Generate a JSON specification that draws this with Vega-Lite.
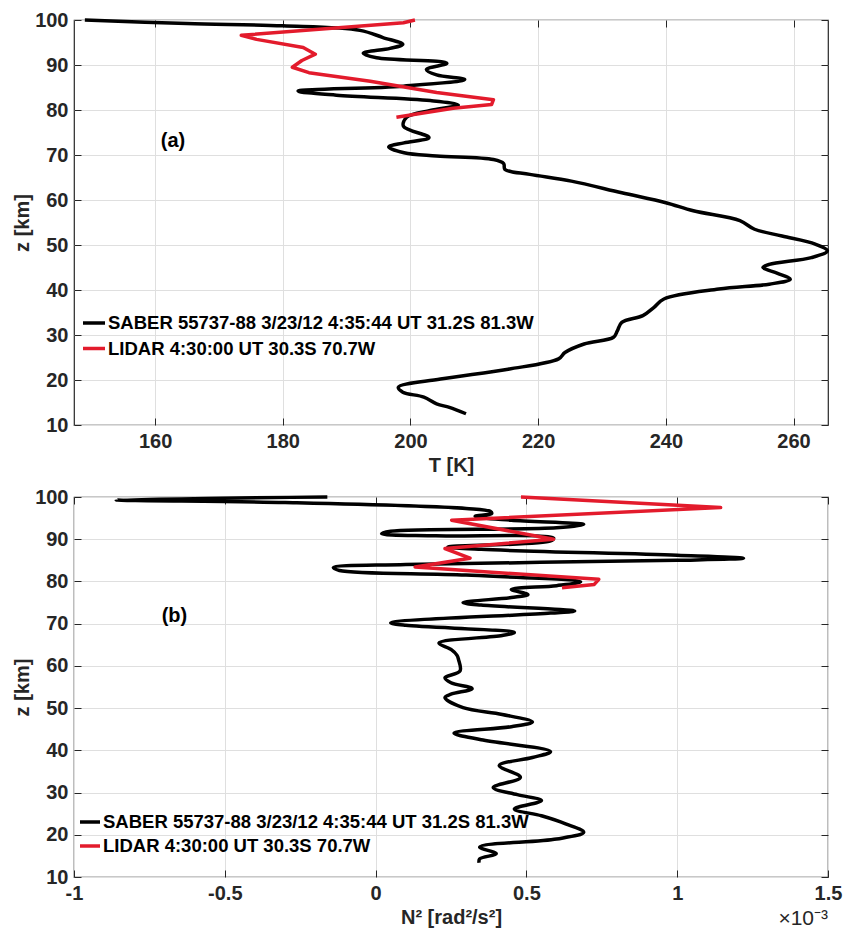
{
  "$schema": "https://vega.github.io/schema/vega-lite/v6.json",
  "background": "white",
  "padding": {"left": 12, "top": 9, "right": 0, "bottom": 0},
  "spacing": 10,
  "config": {
    "font": "Liberation Sans",
    "view": {"stroke": "#262626", "strokeWidth": 1.2},
    "axis": {
      "labelFont": "Liberation Sans", "labelFontWeight": "bold", "labelFontSize": 20, "labelColor": "#262626",
      "titleFont": "Liberation Sans", "titleFontWeight": "bold", "titleFontSize": 20, "titleColor": "#262626",
      "grid": true, "gridColor": "#dfdfdf", "gridWidth": 1, "domain": false, "labelFlush": false,
      "tickColor": "#262626", "tickSize": -7, "tickWidth": 1, "labelPadding": 13
    }
  },
  "resolve": {"scale": {"x": "independent", "y": "independent", "color": "independent"}, "legend": {"color": "independent"}},
  "datasets": {
    "top": [
      {"series": "SABER", "T": 149.0, "z": 100.0},
      {"series": "SABER", "T": 165.0, "z": 99.2},
      {"series": "SABER", "T": 180.0, "z": 98.7},
      {"series": "SABER", "T": 192.1, "z": 97.7},
      {"series": "SABER", "T": 195.7, "z": 96.1},
      {"series": "SABER", "T": 198.8, "z": 94.6},
      {"series": "SABER", "T": 196.8, "z": 93.7},
      {"series": "SABER", "T": 192.6, "z": 92.6},
      {"series": "SABER", "T": 194.7, "z": 91.6},
      {"series": "SABER", "T": 205.7, "z": 90.4},
      {"series": "SABER", "T": 202.5, "z": 89.0},
      {"series": "SABER", "T": 204.1, "z": 87.8},
      {"series": "SABER", "T": 208.5, "z": 86.8},
      {"series": "SABER", "T": 198.9, "z": 85.3},
      {"series": "SABER", "T": 182.4, "z": 84.2},
      {"series": "SABER", "T": 188.4, "z": 83.3},
      {"series": "SABER", "T": 203.1, "z": 82.1},
      {"series": "SABER", "T": 207.5, "z": 81.1},
      {"series": "SABER", "T": 203.1, "z": 79.9},
      {"series": "SABER", "T": 199.4, "z": 78.4},
      {"series": "SABER", "T": 198.9, "z": 76.4},
      {"series": "SABER", "T": 202.9, "z": 73.9},
      {"series": "SABER", "T": 199.0, "z": 72.7},
      {"series": "SABER", "T": 196.6, "z": 71.8},
      {"series": "SABER", "T": 199.0, "z": 70.5},
      {"series": "SABER", "T": 204.1, "z": 69.8},
      {"series": "SABER", "T": 213.0, "z": 69.0},
      {"series": "SABER", "T": 214.6, "z": 68.1},
      {"series": "SABER", "T": 214.8, "z": 66.8},
      {"series": "SABER", "T": 218.7, "z": 65.7},
      {"series": "SABER", "T": 225.2, "z": 64.2},
      {"series": "SABER", "T": 233.1, "z": 61.6},
      {"series": "SABER", "T": 240.0, "z": 59.4},
      {"series": "SABER", "T": 244.3, "z": 57.6},
      {"series": "SABER", "T": 251.6, "z": 55.4},
      {"series": "SABER", "T": 253.9, "z": 53.5},
      {"series": "SABER", "T": 258.2, "z": 52.0},
      {"series": "SABER", "T": 263.4, "z": 50.2},
      {"series": "SABER", "T": 265.3, "z": 48.7},
      {"series": "SABER", "T": 262.8, "z": 47.2},
      {"series": "SABER", "T": 256.2, "z": 45.7},
      {"series": "SABER", "T": 255.2, "z": 45.0},
      {"series": "SABER", "T": 257.5, "z": 43.7},
      {"series": "SABER", "T": 259.5, "z": 42.4},
      {"series": "SABER", "T": 256.2, "z": 41.3},
      {"series": "SABER", "T": 248.3, "z": 40.2},
      {"series": "SABER", "T": 239.7, "z": 38.0},
      {"series": "SABER", "T": 238.1, "z": 36.1},
      {"series": "SABER", "T": 236.4, "z": 34.3},
      {"series": "SABER", "T": 233.1, "z": 32.8},
      {"series": "SABER", "T": 232.4, "z": 30.9},
      {"series": "SABER", "T": 231.8, "z": 29.5},
      {"series": "SABER", "T": 227.2, "z": 28.0},
      {"series": "SABER", "T": 224.2, "z": 26.1},
      {"series": "SABER", "T": 223.2, "z": 24.7},
      {"series": "SABER", "T": 215.3, "z": 22.4},
      {"series": "SABER", "T": 204.7, "z": 20.2},
      {"series": "SABER", "T": 198.1, "z": 18.4},
      {"series": "SABER", "T": 198.8, "z": 17.3},
      {"series": "SABER", "T": 202.1, "z": 16.2},
      {"series": "SABER", "T": 204.1, "z": 14.7},
      {"series": "SABER", "T": 206.1, "z": 13.9},
      {"series": "SABER", "T": 208.7, "z": 12.5},
      {"series": "LIDAR", "T": 200.7, "z": 100.0},
      {"series": "LIDAR", "T": 198.9, "z": 99.4},
      {"series": "LIDAR", "T": 173.5, "z": 96.6},
      {"series": "LIDAR", "T": 175.9, "z": 95.7},
      {"series": "LIDAR", "T": 183.2, "z": 93.9},
      {"series": "LIDAR", "T": 185.1, "z": 92.4},
      {"series": "LIDAR", "T": 183.0, "z": 91.0},
      {"series": "LIDAR", "T": 181.5, "z": 89.5},
      {"series": "LIDAR", "T": 184.1, "z": 88.3},
      {"series": "LIDAR", "T": 193.7, "z": 86.4},
      {"series": "LIDAR", "T": 204.1, "z": 83.9},
      {"series": "LIDAR", "T": 213.0, "z": 82.3},
      {"series": "LIDAR", "T": 212.7, "z": 81.2},
      {"series": "LIDAR", "T": 206.7, "z": 80.4},
      {"series": "LIDAR", "T": 197.8, "z": 78.4}
    ],
    "bot": [
      {"series": "SABER", "N": -0.16, "z": 100.0},
      {"series": "SABER", "N": -0.86, "z": 99.3},
      {"series": "SABER", "N": -0.3, "z": 98.7},
      {"series": "SABER", "N": 0.3, "z": 97.3},
      {"series": "SABER", "N": 0.38, "z": 96.6},
      {"series": "SABER", "N": 0.385, "z": 96.1},
      {"series": "SABER", "N": 0.33, "z": 95.4},
      {"series": "SABER", "N": 0.45, "z": 94.5},
      {"series": "SABER", "N": 0.69, "z": 93.5},
      {"series": "SABER", "N": 0.6, "z": 92.7},
      {"series": "SABER", "N": 0.05, "z": 91.9},
      {"series": "SABER", "N": 0.02, "z": 91.3},
      {"series": "SABER", "N": 0.2, "z": 90.8},
      {"series": "SABER", "N": 0.59, "z": 90.3},
      {"series": "SABER", "N": 0.58, "z": 89.6},
      {"series": "SABER", "N": 0.24, "z": 88.2},
      {"series": "SABER", "N": 0.35, "z": 87.6},
      {"series": "SABER", "N": 1.0, "z": 86.2},
      {"series": "SABER", "N": 1.22, "z": 85.5},
      {"series": "SABER", "N": 1.0, "z": 85.0},
      {"series": "SABER", "N": 0.1, "z": 84.0},
      {"series": "SABER", "N": -0.14, "z": 83.3},
      {"series": "SABER", "N": -0.12, "z": 82.6},
      {"series": "SABER", "N": 0.3, "z": 81.5},
      {"series": "SABER", "N": 0.68, "z": 79.9},
      {"series": "SABER", "N": 0.6, "z": 79.0},
      {"series": "SABER", "N": 0.45, "z": 78.1},
      {"series": "SABER", "N": 0.505, "z": 76.9},
      {"series": "SABER", "N": 0.45, "z": 76.2},
      {"series": "SABER", "N": 0.29, "z": 75.0},
      {"series": "SABER", "N": 0.35, "z": 74.4},
      {"series": "SABER", "N": 0.66, "z": 73.0},
      {"series": "SABER", "N": 0.58, "z": 72.5},
      {"series": "SABER", "N": 0.05, "z": 70.2},
      {"series": "SABER", "N": 0.1, "z": 69.6},
      {"series": "SABER", "N": 0.46, "z": 67.9},
      {"series": "SABER", "N": 0.42, "z": 67.2},
      {"series": "SABER", "N": 0.21, "z": 65.4},
      {"series": "SABER", "N": 0.25, "z": 63.9},
      {"series": "SABER", "N": 0.27, "z": 62.5},
      {"series": "SABER", "N": 0.275, "z": 61.5},
      {"series": "SABER", "N": 0.28, "z": 58.8},
      {"series": "SABER", "N": 0.23, "z": 57.2},
      {"series": "SABER", "N": 0.25, "z": 56.0},
      {"series": "SABER", "N": 0.32, "z": 54.6},
      {"series": "SABER", "N": 0.25, "z": 53.3},
      {"series": "SABER", "N": 0.23, "z": 52.5},
      {"series": "SABER", "N": 0.29, "z": 50.1},
      {"series": "SABER", "N": 0.42, "z": 48.5},
      {"series": "SABER", "N": 0.52, "z": 46.7},
      {"series": "SABER", "N": 0.45, "z": 45.6},
      {"series": "SABER", "N": 0.26, "z": 44.1},
      {"series": "SABER", "N": 0.35, "z": 42.5},
      {"series": "SABER", "N": 0.58, "z": 39.7},
      {"series": "SABER", "N": 0.52, "z": 38.3},
      {"series": "SABER", "N": 0.41, "z": 36.4},
      {"series": "SABER", "N": 0.48, "z": 33.6},
      {"series": "SABER", "N": 0.39, "z": 31.2},
      {"series": "SABER", "N": 0.47, "z": 29.5},
      {"series": "SABER", "N": 0.55, "z": 28.1},
      {"series": "SABER", "N": 0.46, "z": 26.1},
      {"series": "SABER", "N": 0.55, "z": 24.5},
      {"series": "SABER", "N": 0.63, "z": 22.6},
      {"series": "SABER", "N": 0.69, "z": 20.6},
      {"series": "SABER", "N": 0.6, "z": 19.0},
      {"series": "SABER", "N": 0.345, "z": 17.1},
      {"series": "SABER", "N": 0.4, "z": 15.5},
      {"series": "SABER", "N": 0.345, "z": 14.3},
      {"series": "SABER", "N": 0.343, "z": 13.4},
      {"series": "LIDAR", "N": 0.482, "z": 100.0},
      {"series": "LIDAR", "N": 1.144, "z": 97.5},
      {"series": "LIDAR", "N": 0.252, "z": 94.5},
      {"series": "LIDAR", "N": 0.59, "z": 90.0},
      {"series": "LIDAR", "N": 0.23, "z": 87.8},
      {"series": "LIDAR", "N": 0.313, "z": 85.5},
      {"series": "LIDAR", "N": 0.131, "z": 83.4},
      {"series": "LIDAR", "N": 0.74, "z": 80.5},
      {"series": "LIDAR", "N": 0.725, "z": 79.3},
      {"series": "LIDAR", "N": 0.618, "z": 78.5}
    ]
  },
  "vconcat": [
    {
      "width": 754,
      "height": 405,
      "data": {"name": "top"},
      "transform": [
        {"calculate": "datum.series === 'SABER' ? 'SABER 55737-88 3/23/12 4:35:44 UT 31.2S 81.3W' : 'LIDAR 4:30:00 UT 30.3S 70.7W'", "as": "label"}
      ],
      "resolve": {"axis": {"x": "independent", "y": "independent"}},
      "layer": [
        {
          "transform": [{"filter": "datum.series === 'SABER'"}],
          "mark": {"type": "line", "strokeWidth": 3.5, "interpolate": "catmull-rom", "strokeJoin": "round"},
          "encoding": {
            "x": {"field": "T", "type": "quantitative", "scale": {"domain": [147.3, 265.4], "nice": false, "zero": false},
                  "axis": {"values": [160, 180, 200, 220, 240, 260], "title": "T [K]", "titlePadding": 4}},
            "y": {"field": "z", "type": "quantitative", "scale": {"domain": [10, 100], "nice": false, "zero": false},
                  "axis": {"values": [10, 20, 30, 40, 50, 60, 70, 80, 90, 100], "title": "z [km]", "titlePadding": 2}},
            "order": {"field": "z", "sort": "descending"},
            "color": {"field": "label", "type": "nominal",
              "scale": {"domain": ["SABER 55737-88 3/23/12 4:35:44 UT 31.2S 81.3W", "LIDAR 4:30:00 UT 30.3S 70.7W"], "range": ["#000000", "#e31b2c"]},
              "legend": {"orient": "none", "legendX": 7, "legendY": 290, "title": null, "symbolType": "stroke", "symbolSize": 484, "symbolStrokeWidth": 3.5,
                "labelFont": "Liberation Sans", "labelFontWeight": "bold", "labelFontSize": 18.5, "labelColor": "#000000", "labelLimit": 700, "rowPadding": 2.5, "labelOffset": 1, "direction": "vertical", "padding": 0}}
          }
        },
        {
          "transform": [{"filter": "datum.series === 'LIDAR'"}],
          "mark": {"type": "line", "strokeWidth": 3.5, "strokeJoin": "round"},
          "encoding": {
            "x": {"field": "T", "type": "quantitative", "axis": null},
            "y": {"field": "z", "type": "quantitative", "axis": null},
            "order": {"field": "z", "sort": "descending"},
            "color": {"field": "label", "type": "nominal"}
          }
        },
        {
          "data": {"values": [{"T": 162.8, "z": 73.1, "text": "(a)"}]},
          "transform": [],
          "mark": {"type": "text", "font": "Liberation Sans", "fontWeight": "bold", "fontSize": 20, "color": "#000000", "align": "center", "baseline": "middle"},
          "encoding": {
            "x": {"field": "T", "type": "quantitative", "axis": {"orient": "top", "values": [160, 180, 200, 220, 240, 260], "labels": false, "title": null, "grid": false, "minExtent": 0}},
            "y": {"field": "z", "type": "quantitative", "axis": {"orient": "right", "values": [10, 20, 30, 40, 50, 60, 70, 80, 90, 100], "labels": false, "title": null, "grid": false, "minExtent": 0}},
            "text": {"field": "text"}
          }
        }
      ]
    },
    {
      "width": 754,
      "height": 380,
      "data": {"name": "bot"},
      "transform": [
        {"calculate": "datum.series === 'SABER' ? 'SABER 55737-88 3/23/12 4:35:44 UT 31.2S 81.3W' : 'LIDAR 4:30:00 UT 30.3S 70.7W'", "as": "label"}
      ],
      "resolve": {"axis": {"x": "independent", "y": "independent"}},
      "layer": [
        {
          "transform": [{"filter": "datum.series === 'SABER'"}],
          "mark": {"type": "line", "strokeWidth": 3.5, "interpolate": "catmull-rom", "strokeJoin": "round"},
          "encoding": {
            "x": {"field": "N", "type": "quantitative", "scale": {"domain": [-1, 1.5], "nice": false, "zero": false},
                  "axis": {"values": [-1, -0.5, 0, 0.5, 1, 1.5], "format": "~g", "title": "N² [rad²/s²]", "titlePadding": 4, "labelExpr": "replace(datum.label, '−', '-')"}},
            "y": {"field": "z", "type": "quantitative", "scale": {"domain": [10, 100], "nice": false, "zero": false},
                  "axis": {"values": [10, 20, 30, 40, 50, 60, 70, 80, 90, 100], "title": "z [km]", "titlePadding": 2}},
            "order": {"field": "z", "sort": "descending"},
            "color": {"field": "label", "type": "nominal",
              "scale": {"domain": ["SABER 55737-88 3/23/12 4:35:44 UT 31.2S 81.3W", "LIDAR 4:30:00 UT 30.3S 70.7W"], "range": ["#000000", "#e31b2c"]},
              "legend": {"orient": "none", "legendX": 4, "legendY": 313, "title": null, "symbolType": "stroke", "symbolSize": 400, "symbolStrokeWidth": 3.5,
                "labelFont": "Liberation Sans", "labelFontWeight": "bold", "labelFontSize": 18.5, "labelColor": "#000000", "labelLimit": 700, "rowPadding": 2, "labelOffset": 1, "direction": "vertical", "padding": 0}}
          }
        },
        {
          "transform": [{"filter": "datum.series === 'LIDAR'"}],
          "mark": {"type": "line", "strokeWidth": 3.5, "strokeJoin": "round"},
          "encoding": {
            "x": {"field": "N", "type": "quantitative", "axis": null},
            "y": {"field": "z", "type": "quantitative", "axis": null},
            "order": {"field": "z", "sort": "descending"},
            "color": {"field": "label", "type": "nominal"}
          }
        },
        {
          "data": {"values": [{"N": -0.667, "z": 71.7, "text": "(b)"}]},
          "transform": [],
          "mark": {"type": "text", "font": "Liberation Sans", "fontWeight": "bold", "fontSize": 20, "color": "#000000", "align": "center", "baseline": "middle"},
          "encoding": {
            "x": {"field": "N", "type": "quantitative", "axis": {"orient": "top", "values": [-1, -0.5, 0, 0.5, 1, 1.5], "labels": false, "title": null, "grid": false, "minExtent": 0}},
            "y": {"field": "z", "type": "quantitative", "axis": {"orient": "right", "values": [10, 20, 30, 40, 50, 60, 70, 80, 90, 100], "labels": false, "title": null, "grid": false, "minExtent": 0}},
            "text": {"field": "text"}
          }
        },
        {
          "data": {"values": [{"N": 1.5, "z": 0.0, "text": "×10⁻³"}]},
          "transform": [],
          "mark": {"type": "text", "font": "Liberation Sans", "fontWeight": "normal", "fontSize": 21, "color": "#262626", "align": "right", "baseline": "middle"},
          "encoding": {
            "x": {"field": "N", "type": "quantitative", "axis": null},
            "y": {"field": "z", "type": "quantitative", "axis": null},
            "text": {"field": "text"}
          }
        }
      ]
    }
  ]
}
